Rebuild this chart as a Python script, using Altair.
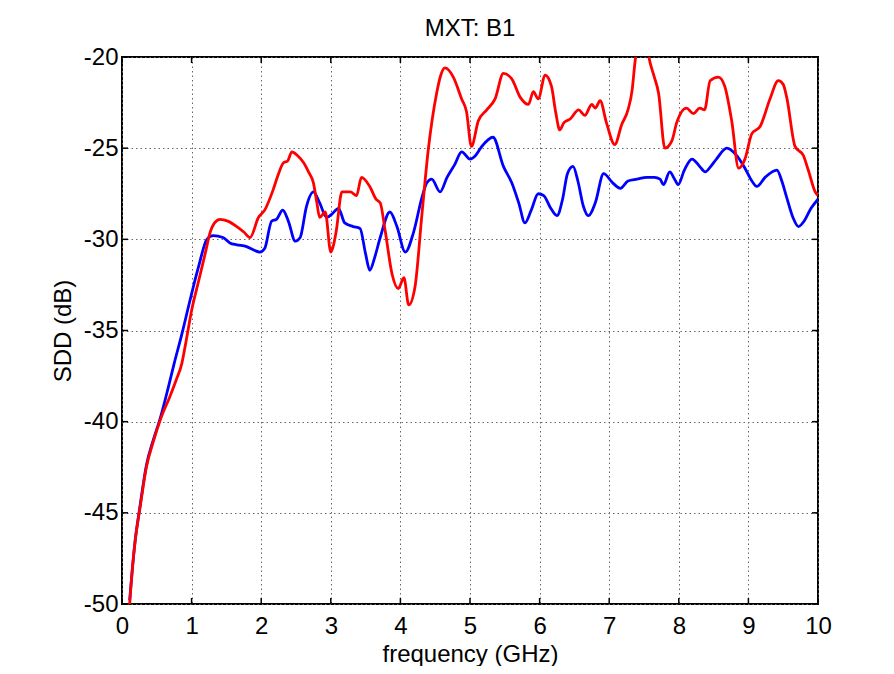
import altair as alt
import pandas as pd

# ---- data ----
blue_freq = [0.11, 0.19, 0.26, 0.35, 0.45, 0.55, 0.66, 0.75, 0.86, 0.98, 1.10, 1.22, 1.31, 1.45,
             1.55, 1.65, 1.79, 1.90, 1.98, 2.05, 2.15, 2.22, 2.31, 2.39, 2.49, 2.56, 2.65, 2.75,
             2.84, 2.94, 3.02, 3.11, 3.20, 3.32, 3.42, 3.50, 3.56, 3.63, 3.71, 3.85, 3.95, 4.07,
             4.19, 4.31, 4.38, 4.45, 4.57, 4.67, 4.78, 4.88, 5.00, 5.08, 5.17, 5.33, 5.48, 5.60,
             5.70, 5.79, 5.88, 5.98, 6.06, 6.16, 6.25, 6.33, 6.40, 6.48, 6.55, 6.63, 6.70, 6.80,
             6.92, 7.05, 7.16, 7.27, 7.40, 7.54, 7.65, 7.73, 7.78, 7.87, 7.94, 7.99, 8.08, 8.19,
             8.30, 8.38, 8.46, 8.54, 8.69, 8.83, 8.95, 9.05, 9.12, 9.24, 9.41, 9.48, 9.55, 9.64,
             9.72, 9.80, 9.90, 10.0]
blue_sdd = [-49.8, -46.5, -44.6, -42.4, -41.0, -39.8, -38.2, -36.8, -35.2, -33.3, -31.5, -30.0, -29.8, -29.9,
            -30.2, -30.3, -30.4, -30.6, -30.7, -30.5, -29.0, -28.9, -28.4, -29.0, -30.1, -29.9, -28.2, -27.4,
            -28.0, -28.8, -28.6, -28.3, -29.1, -29.3, -29.4, -30.8, -31.7, -31.0, -29.9, -28.5, -29.3, -30.7,
            -29.6, -27.7, -26.9, -26.7, -27.4, -26.6, -25.9, -25.2, -25.6, -25.4, -24.9, -24.4, -26.0, -26.9,
            -28.0, -29.1, -28.4, -27.5, -27.6, -28.3, -28.7, -27.8, -26.4, -26.0, -26.8, -28.2, -28.7, -28.0,
            -26.4, -26.9, -27.2, -26.8, -26.7, -26.6, -26.6, -26.7, -27.0, -26.3, -26.7, -27.0, -26.2, -25.6,
            -26.0, -26.3, -26.0, -25.6, -25.0, -25.4, -26.1, -26.8, -27.1, -26.6, -26.2, -26.8, -27.7, -28.8,
            -29.3, -29.0, -28.3, -27.8]

red_freq = [0.11, 0.15, 0.19, 0.26, 0.35, 0.45, 0.55, 0.69, 0.78, 0.86, 0.92, 1.00, 1.10, 1.20,
            1.26, 1.33, 1.41, 1.52, 1.65, 1.75, 1.84, 1.96, 2.05, 2.17, 2.24, 2.32, 2.38, 2.44,
            2.52, 2.61, 2.68, 2.75, 2.80, 2.84, 2.92, 3.00, 3.04, 3.08, 3.16, 3.28, 3.37, 3.44,
            3.56, 3.65, 3.71, 3.78, 3.88, 3.97, 4.05, 4.12, 4.21, 4.31, 4.40, 4.52, 4.58, 4.64,
            4.76, 4.88, 4.95, 5.02, 5.12, 5.24, 5.36, 5.48, 5.60, 5.72, 5.84, 5.91, 5.98, 6.08,
            6.17, 6.23, 6.29, 6.35, 6.44, 6.56, 6.65, 6.75, 6.80, 6.87, 6.96, 7.08, 7.18, 7.27,
            7.33, 7.37, 7.42, 7.48, 7.53, 7.57, 7.64, 7.71, 7.80, 7.90, 7.97, 8.11, 8.21, 8.30,
            8.37, 8.45, 8.57, 8.66, 8.76, 8.86, 8.95, 9.05, 9.17, 9.31, 9.43, 9.50, 9.55, 9.67,
            9.79, 9.86, 9.96, 10.0]
red_sdd = [-50.0, -48.0, -46.5, -44.7, -42.5, -41.1, -39.9, -38.6, -37.7, -36.8, -35.6, -33.9, -32.3, -30.7,
           -29.7, -29.1, -28.9, -29.0, -29.3, -29.6, -29.9, -28.8, -28.4, -27.3, -26.5, -25.8, -25.7, -25.2,
           -25.4, -25.8, -26.3, -26.9, -28.0, -28.8, -28.5, -30.7, -30.3, -29.5, -27.4, -27.4, -27.6, -26.6,
           -27.1, -27.8, -28.0, -29.5, -31.9, -32.7, -32.1, -33.6, -32.6, -28.6, -25.1, -22.0, -21.0, -20.6,
           -21.1, -22.3, -23.0, -24.9, -23.5, -22.9, -22.3, -20.9, -21.2, -22.2, -22.6, -21.9, -22.3, -21.0,
           -21.6, -23.0, -24.0, -23.6, -23.4, -22.9, -23.2, -22.6, -22.8, -22.4, -23.6, -24.8, -23.7, -22.9,
           -21.8, -20.3, -19.0, -18.5, -19.0, -20.0, -21.0, -22.0, -25.0, -24.6, -23.6, -22.8, -23.1, -22.8,
           -22.9, -21.3, -21.1, -21.6, -23.5, -26.1, -25.6, -24.2, -23.8, -22.3, -21.3, -21.5, -22.2, -24.9,
           -25.4, -26.2, -27.4, -27.6]

x_ticks = [0, 1, 2, 3, 4, 5, 6, 7, 8, 9, 10]
y_ticks = [-50, -45, -40, -35, -30, -25, -20]
series_names = ["blue", "red"]
series_colors = ["#0000ff", "#ff0000"]

X_MIN, X_MAX = 0, 10
Y_MIN, Y_MAX = -50, -20

df = pd.concat([
    pd.DataFrame({"freq": blue_freq, "sdd": blue_sdd, "series": "blue"}),
    pd.DataFrame({"freq": red_freq, "sdd": red_sdd, "series": "red"}),
], ignore_index=True)

FONT = "Liberation Sans"

xscale = alt.Scale(domain=[X_MIN, X_MAX], nice=False, zero=False)
yscale = alt.Scale(domain=[Y_MIN, Y_MAX], nice=False, zero=False)

x_axis = alt.Axis(values=x_ticks, title="frequency (GHz)", grid=True, gridColor="#666666",
                  gridDash=[1.5, 3], gridWidth=1, ticks=False, domain=False,
                  labelFont=FONT, labelFontSize=24, labelColor="black", labelPadding=10,
                  labelFlush=False, labelOverlap=False,
                  titleFont=FONT, titleFontSize=24, titleFontWeight="normal", titleColor="black",
                  titlePadding=4, labelExpr="toString(datum.value)")
y_axis = alt.Axis(values=y_ticks, title="SDD (dB)", grid=True, gridColor="#666666",
                  gridDash=[1.5, 3], gridWidth=1, ticks=False, domain=False,
                  labelFont=FONT, labelFontSize=24, labelColor="black", labelPadding=4,
                  labelFlush=False, labelOverlap=False,
                  titleFont=FONT, titleFontSize=24, titleFontWeight="normal", titleColor="black",
                  titlePadding=8, labelExpr="toString(datum.value)")

lines = alt.Chart(df).mark_line(strokeWidth=2.8, clip=True, strokeJoin="round",
                                interpolate="monotone").encode(
    x=alt.X("freq:Q", scale=xscale, axis=x_axis),
    y=alt.Y("sdd:Q", scale=yscale, axis=y_axis),
    color=alt.Color("series:N", scale=alt.Scale(domain=series_names, range=series_colors), legend=None),
    detail="series:N",
)

# inward tick marks (MATLAB style) on all four sides
XT = 0.33   # tick length in dB
YT = 0.087  # tick length in GHz
xt_df = pd.DataFrame({"v": x_ticks})
yt_df = pd.DataFrame({"v": y_ticks})

bottom_ticks = alt.Chart(xt_df).mark_rule(color="black", strokeWidth=1.5).encode(
    x=alt.X("v:Q", scale=xscale), y=alt.datum(Y_MIN), y2=alt.datum(Y_MIN + XT))
top_ticks = alt.Chart(xt_df).mark_rule(color="black", strokeWidth=1.5).encode(
    x=alt.X("v:Q", scale=xscale), y=alt.datum(Y_MAX), y2=alt.datum(Y_MAX - XT))
left_ticks = alt.Chart(yt_df).mark_rule(color="black", strokeWidth=1.5).encode(
    y=alt.Y("v:Q", scale=yscale), x=alt.datum(X_MIN), x2=alt.datum(X_MIN + YT))
right_ticks = alt.Chart(yt_df).mark_rule(color="black", strokeWidth=1.5).encode(
    y=alt.Y("v:Q", scale=yscale), x=alt.datum(X_MAX), x2=alt.datum(X_MAX - YT))

chart = alt.layer(lines, bottom_ticks, top_ticks, left_ticks, right_ticks).properties(
    width=696, height=547,
    title=alt.Title("MXT: B1", font=FONT, fontSize=24, fontWeight="normal", color="black",
                    anchor="middle", offset=4),
    autosize=alt.AutoSizeParams(type="none"),
    padding={"left": 114, "top": 49, "right": 40, "bottom": 62},
    background="white",
).configure_view(stroke="black", strokeWidth=2)

chart.save("out.html", embed_options={"renderer": "svg", "actions": False})
